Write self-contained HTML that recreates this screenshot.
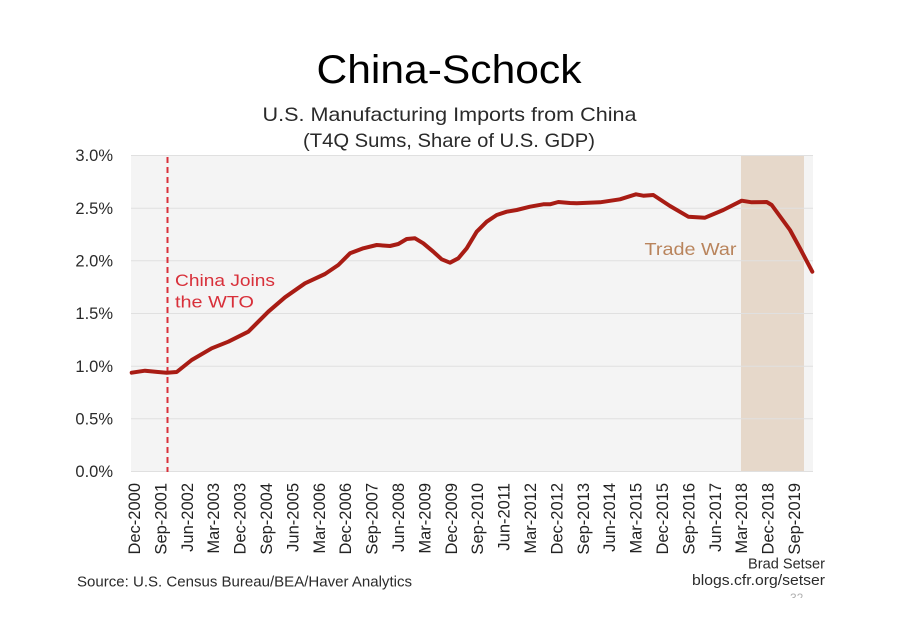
<!DOCTYPE html>
<html><head><meta charset="utf-8"><style>
html,body{margin:0;padding:0;background:#fff;}
svg{display:block;}
text{font-family:"Liberation Sans",sans-serif;}
</style></head><body>
<svg width="900" height="636" viewBox="0 0 900 636" xmlns="http://www.w3.org/2000/svg">
<rect width="900" height="636" fill="#fff"/>
<!-- Titles -->
<text x="449" y="83" font-size="40" fill="#000" text-anchor="middle" textLength="265" lengthAdjust="spacingAndGlyphs">China-Schock</text>
<text x="449.5" y="121" font-size="19.5" fill="#2a2a2a" text-anchor="middle" textLength="374" lengthAdjust="spacingAndGlyphs">U.S. Manufacturing Imports from China</text>
<text x="449" y="147" font-size="19.5" fill="#2a2a2a" text-anchor="middle" textLength="292" lengthAdjust="spacingAndGlyphs">(T4Q Sums, Share of U.S. GDP)</text>
<!-- Plot bg -->
<rect x="131" y="155" width="682" height="316" fill="#f4f4f4"/>
<!-- trade war band -->
<rect x="741" y="155" width="63" height="316" fill="#e6d8ca"/>
<!-- gridlines -->
<g stroke="#e0e0e0" stroke-width="1">
<line x1="131" x2="813" y1="155.5" y2="155.5"/>
<line x1="131" x2="813" y1="208.2" y2="208.2"/>
<line x1="131" x2="813" y1="260.8" y2="260.8"/>
<line x1="131" x2="813" y1="313.5" y2="313.5"/>
<line x1="131" x2="813" y1="366.2" y2="366.2"/>
<line x1="131" x2="813" y1="418.8" y2="418.8"/>
<line x1="131" x2="813" y1="471.5" y2="471.5"/>
</g>
<!-- y labels -->
<g font-size="16.5" fill="#2b2b2b" text-anchor="end">
<text x="113" y="161">3.0%</text>
<text x="113" y="214">2.5%</text>
<text x="113" y="266.5">2.0%</text>
<text x="113" y="319">1.5%</text>
<text x="113" y="372">1.0%</text>
<text x="113" y="424.5">0.5%</text>
<text x="113" y="477">0.0%</text>
</g>
<!-- WTO dashed -->
<line x1="167.5" x2="167.5" y1="157" y2="472" stroke="#d8303a" stroke-width="2" stroke-dasharray="6,4"/>
<text x="175" y="286" font-size="16.5" fill="#d8303a" textLength="100" lengthAdjust="spacingAndGlyphs">China Joins</text>
<text x="175" y="307.5" font-size="16.5" fill="#d8303a" textLength="79" lengthAdjust="spacingAndGlyphs">the WTO</text>
<text x="644.5" y="255" font-size="17.5" fill="#b9845c" textLength="92" lengthAdjust="spacingAndGlyphs">Trade War</text>
<!-- data line -->
<polyline fill="none" stroke="#a81c14" stroke-width="4" stroke-linejoin="round" stroke-linecap="round" points="
131.7,372.7 145,370.7 158,372 166.7,372.7 176.7,372 191.7,360 211.7,348.3 228.3,341.7 248.3,331.7 268.3,311.7 285,297.3 305,283.3 325,274 338.3,265 350,253.3 363.3,248.3 376.7,245 390,246 398.3,244 406.7,239 415,238.3 423.3,243.3 433.3,251.7 441.7,259.3 450,262.7 458.3,258.3 466.7,248.3 476.7,231.7 486.7,221.7 496.7,215 506.7,211.7 516.7,210 530,206.7 543.3,204.3 550,204.3 558.3,202 570,203 576.7,203.3 600,202.3 620,199.3 636,194.3 643.3,195.7 653.3,195 670,206 688.3,216.7 705,217.7 723.3,210 741.7,200.7 751.7,202.3 766.7,202 771.7,205 790,230 800,248.3 812.3,271.7"/>
<!-- x labels -->
<g font-size="16.5" fill="#222" text-anchor="end">
<text transform="translate(140,483) rotate(-90)">Dec-2000</text>
<text transform="translate(166.4,483) rotate(-90)">Sep-2001</text>
<text transform="translate(192.8,483) rotate(-90)">Jun-2002</text>
<text transform="translate(219.2,483) rotate(-90)">Mar-2003</text>
<text transform="translate(245.6,483) rotate(-90)">Dec-2003</text>
<text transform="translate(272,483) rotate(-90)">Sep-2004</text>
<text transform="translate(298.4,483) rotate(-90)">Jun-2005</text>
<text transform="translate(324.8,483) rotate(-90)">Mar-2006</text>
<text transform="translate(351.2,483) rotate(-90)">Dec-2006</text>
<text transform="translate(377.6,483) rotate(-90)">Sep-2007</text>
<text transform="translate(404,483) rotate(-90)">Jun-2008</text>
<text transform="translate(430.4,483) rotate(-90)">Mar-2009</text>
<text transform="translate(456.8,483) rotate(-90)">Dec-2009</text>
<text transform="translate(483.2,483) rotate(-90)">Sep-2010</text>
<text transform="translate(509.6,483) rotate(-90)">Jun-2011</text>
<text transform="translate(536,483) rotate(-90)">Mar-2012</text>
<text transform="translate(562.4,483) rotate(-90)">Dec-2012</text>
<text transform="translate(588.8,483) rotate(-90)">Sep-2013</text>
<text transform="translate(615.2,483) rotate(-90)">Jun-2014</text>
<text transform="translate(641.6,483) rotate(-90)">Mar-2015</text>
<text transform="translate(668,483) rotate(-90)">Dec-2015</text>
<text transform="translate(694.4,483) rotate(-90)">Sep-2016</text>
<text transform="translate(720.8,483) rotate(-90)">Jun-2017</text>
<text transform="translate(747.2,483) rotate(-90)">Mar-2018</text>
<text transform="translate(773.6,483) rotate(-90)">Dec-2018</text>
<text transform="translate(800,483) rotate(-90)">Sep-2019</text>
</g>
<!-- footer -->
<text x="77" y="586.5" font-size="14.5" fill="#2b2b2b" textLength="335" lengthAdjust="spacingAndGlyphs">Source: U.S. Census Bureau/BEA/Haver Analytics</text>
<text x="825" y="568.5" font-size="14.5" fill="#2b2b2b" text-anchor="end" textLength="77" lengthAdjust="spacingAndGlyphs">Brad Setser</text>
<text x="825" y="585" font-size="14.5" fill="#2b2b2b" text-anchor="end" textLength="133" lengthAdjust="spacingAndGlyphs">blogs.cfr.org/setser</text>
<clipPath id="c32"><rect x="785" y="591" width="25" height="7"/></clipPath>
<text x="790" y="602" font-size="12" fill="#b0b0b0" clip-path="url(#c32)">32</text>
</svg>
</body></html>
